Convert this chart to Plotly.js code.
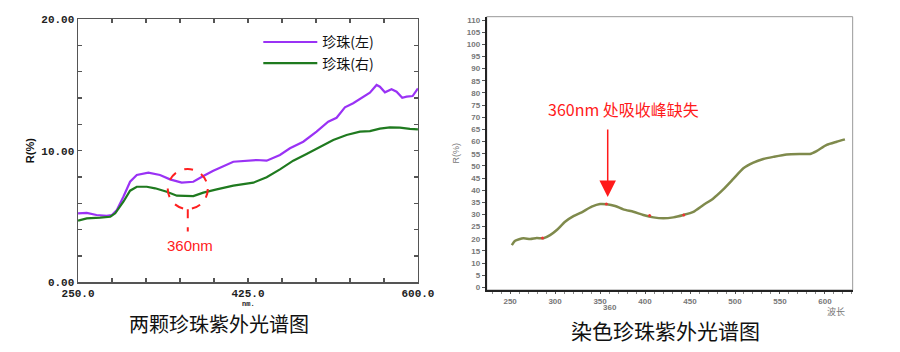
<!DOCTYPE html>
<html>
<head>
<meta charset="utf-8">
<script src="https://cdn.plot.ly/plotly-3.0.1.min.js"></script>
<style>html,body{margin:0;padding:0;background:#fff}#chart{width:900px;height:352px}</style>
</head>
<body>
<div id="chart"></div>
<script>
// ---- Left panel: two pearls ----
const purpleX = [250,259,269,279.5,284.7,290,296.7,303.6,310.5,322.4,334.4,344.7,356.7,368.7,379,389.3,409.9,423.6,433.9,444.2,457.9,468.2,481.9,495.6,507.6,516.2,524.8,533.3,543.6,550.5,557.4,560.8,566,572.8,578,583.8,588.3,594.5,600];
const purpleY = [5.24,5.27,5.11,5.04,5.10,5.49,6.50,7.64,8.15,8.33,8.15,7.82,7.57,7.64,8.07,8.48,9.16,9.21,9.29,9.24,9.67,10.18,10.68,11.44,12.20,12.50,13.29,13.60,14.10,14.40,14.99,14.86,14.43,14.66,14.48,14.02,14.10,14.15,14.73];
const greenX = [250,259,272.8,283.2,288.3,296.7,303.6,310.5,320.8,329.4,341.4,351.7,368.7,379,392.8,409.9,430.5,444.2,457.9,471.6,485.3,499.1,512.8,526.5,540.3,550.5,560.8,571.1,581.4,591.7,600];
const greenY = [4.68,4.86,4.91,4.98,5.24,6.12,6.96,7.26,7.26,7.14,6.88,6.58,6.55,6.81,7.06,7.34,7.57,7.98,8.58,9.24,9.75,10.30,10.81,11.19,11.44,11.49,11.67,11.77,11.75,11.65,11.62];
const seriesNames = ["珍珠(左)", "珍珠(右)"];
const leftXTicks = [250,285,320,355,390,425,460,495,530,565,600];
const leftXText = ["250.0","","","","","425.0","","","","","600.0"];
const leftYTicks = [0,2,4,6,8,10,12,14,16,18,20];
const leftYText = ["0.00","","","","","10.00","","","","","20.00"];

// ---- Right panel: dyed pearl ----
const dyedX = [251.9,255.6,264.8,272.2,279.6,287,294.4,301.9,311.1,320.4,329.6,340.7,350,357.4,366.7,375.9,387,398.1,409.3,420.4,431.5,442.6,453.7,464.8,475.9,487,498.1,509.3,520.4,531.5,542.6,557.4,572.2,583.3,590.7,601.9,613,622.2];
const dyedY = [17.4,19.2,20.2,19.9,20.3,20.2,21.5,23.6,27.0,29.3,30.9,33.2,34.3,34.2,33.5,32.1,31.1,29.8,28.8,28.4,28.8,29.8,31.1,33.9,36.6,40.3,44.6,49.0,51.3,52.8,53.7,54.7,54.9,54.9,56.1,58.6,59.9,60.9];
const dotX = [286, 357, 405, 443];
const dotY = [20.3, 34.3, 29.6, 29.8];

const titleLeft = "两颗珍珠紫外光谱图";
const titleRight = "染色珍珠紫外光谱图";
const noteRight = "360nm 处吸收峰缺失";

const traces = [
  {x: purpleX, y: purpleY, name: seriesNames[0], type: 'scatter', mode: 'lines',
   line: {color: '#9a32f5', width: 2.2}, xaxis: 'x', yaxis: 'y'},
  {x: greenX, y: greenY, name: seriesNames[1], type: 'scatter', mode: 'lines',
   line: {color: '#1f7a1f', width: 2.2}, xaxis: 'x', yaxis: 'y'},
  {x: dyedX, y: dyedY, type: 'scatter', mode: 'lines', showlegend: false,
   line: {color: '#7f8a4c', width: 2.5, shape: 'spline', smoothing: 0.6}, xaxis: 'x2', yaxis: 'y2'},
  {x: dotX, y: dotY, type: 'scatter', mode: 'markers', showlegend: false,
   marker: {color: '#e33', size: 3}, xaxis: 'x2', yaxis: 'y2'}
];

const monoTick = {family: 'Liberation Mono, DejaVu Sans Mono, monospace', size: 11, color: '#222', weight: 'bold'};
const greyTick = {family: 'Liberation Sans, Arial, sans-serif', size: 8, color: '#777', weight: 'bold'};
const py = v => 1 - v / 352;
const px = v => v / 900;

const layout = {
  width: 900, height: 352,
  margin: {l: 0, r: 0, t: 0, b: 0},
  paper_bgcolor: '#fff', plot_bgcolor: '#fff',
  showlegend: true,
  legend: {x: 0.287, y: 0.925, xanchor: 'left', yanchor: 'top', bgcolor: 'rgba(0,0,0,0)',
    itemwidth: 54,
    font: {family: 'Noto Sans CJK SC, sans-serif', size: 14, color: '#111'}, tracegroupgap: 0},
  xaxis: {domain: [0.0867, 0.4644], range: [250, 600], anchor: 'y',
    tickmode: 'array', tickvals: leftXTicks, ticktext: leftXText,
    ticks: 'inside', ticklen: 4, tickcolor: '#555', tickwidth: 1.2,
    showline: true, linecolor: '#555', linewidth: 1.5, mirror: 'ticks',
    showgrid: false, zeroline: false, tickfont: monoTick},
  yaxis: {domain: [0.198, 0.946], range: [0, 20], anchor: 'x',
    tickmode: 'array', tickvals: leftYTicks, ticktext: leftYText,
    ticks: 'inside', ticklen: 4, tickcolor: '#555', tickwidth: 1.2,
    showline: true, linecolor: '#555', linewidth: 1.5, mirror: 'ticks',
    showgrid: false, zeroline: false, tickfont: monoTick,
    title: {text: 'R(%)', font: {family: 'Liberation Sans, Arial, sans-serif', size: 11, color: '#111', weight: 'bold'}, standoff: 4}},
  xaxis2: {domain: [0.5408, 0.9474], range: [224, 630.8], anchor: 'y2',
    tick0: 250, dtick: 50, ticks: 'outside', ticklen: 2, tickcolor: '#555',
    minor: {dtick: 10, tick0: 250, ticks: 'outside', ticklen: 2, tickcolor: '#888'},
    showline: true, linecolor: '#222', linewidth: 2,
    showgrid: false, zeroline: false, tickfont: greyTick},
  yaxis2: {domain: [0.1761, 0.9526], range: [-1.1, 111.4], anchor: 'x2',
    tick0: 0, dtick: 5, ticks: 'outside', ticklen: 3, tickcolor: '#555',
    showline: true, linecolor: '#222', linewidth: 2,
    showgrid: false, zeroline: false, tickfont: greyTick,
    title: {text: 'R(%)', font: {family: 'Liberation Sans, Arial, sans-serif', size: 9, color: '#777'}, standoff: 6}},
  shapes: [
    {type: 'rect', xref: 'x2 domain', yref: 'y2 domain', x0: 0, x1: 1, y0: 0, y1: 1,
     line: {color: '#999', width: 1}, layer: 'below'},
    {type: 'circle', xref: 'x', yref: 'y', xsizemode: 'pixel', ysizemode: 'pixel',
     xanchor: 363, yanchor: 7.09, x0: -20, x1: 20, y0: -20, y1: 20,
     line: {color: '#ff2020', width: 2, dash: 'dash'}},
    {type: 'line', xref: 'x', yref: 'y', x0: 363, x1: 363, y0: 5.55, y1: 3.85,
     line: {color: '#ff2020', width: 2, dash: 'dash'}}
  ],
  annotations: [
    {text: '360nm', xref: 'x', yref: 'y', x: 365, y: 2.8, showarrow: false,
     xanchor: 'center', yanchor: 'middle',
     font: {family: 'Liberation Sans Narrow, Arial Narrow, Liberation Sans, sans-serif', size: 15, color: '#ff2020'}},
    {text: 'nm.', xref: 'x', yref: 'paper', x: 425, y: py(304), showarrow: false,
     xanchor: 'center', yanchor: 'middle',
     font: {family: 'Liberation Mono, monospace', size: 7, color: '#222', weight: 'bold'}},
    {text: noteRight, xref: 'x2', yref: 'y2', x: 375.6, y: 73.4, showarrow: false,
     xanchor: 'center', yanchor: 'middle',
     font: {family: 'Liberation Sans Narrow, Noto Sans CJK SC, sans-serif', size: 16, color: '#ff1a1a'}},
    {text: '', xref: 'x2', yref: 'y2', x: 358.5, y: 37.2, ax: 0, ay: -69, showarrow: true,
     arrowhead: 2, arrowsize: 2.2, arrowwidth: 1.5, arrowcolor: '#ff1a1a'},
    {text: '360', xref: 'x2', yref: 'paper', x: 361, y: py(307.5), showarrow: false,
     xanchor: 'center', yanchor: 'middle', font: greyTick},
    {text: '波长', xref: 'paper', yref: 'paper', x: px(836), y: py(311), showarrow: false,
     xanchor: 'center', yanchor: 'middle',
     font: {family: 'Noto Sans CJK SC, sans-serif', size: 9, color: '#777'}},
    {text: titleLeft, xref: 'paper', yref: 'paper', x: px(219), y: py(323), showarrow: false,
     xanchor: 'center', yanchor: 'middle',
     font: {family: 'Noto Sans CJK SC, sans-serif', size: 20, color: '#111'}},
    {text: titleRight, xref: 'paper', yref: 'paper', x: px(665), y: py(330), showarrow: false,
     xanchor: 'center', yanchor: 'middle',
     font: {family: 'Noto Sans CJK SC, sans-serif', size: 21, color: '#111'}}
  ]
};

Plotly.newPlot('chart', traces, layout, {staticPlot: true, displayModeBar: false});
</script>
</body>
</html>
